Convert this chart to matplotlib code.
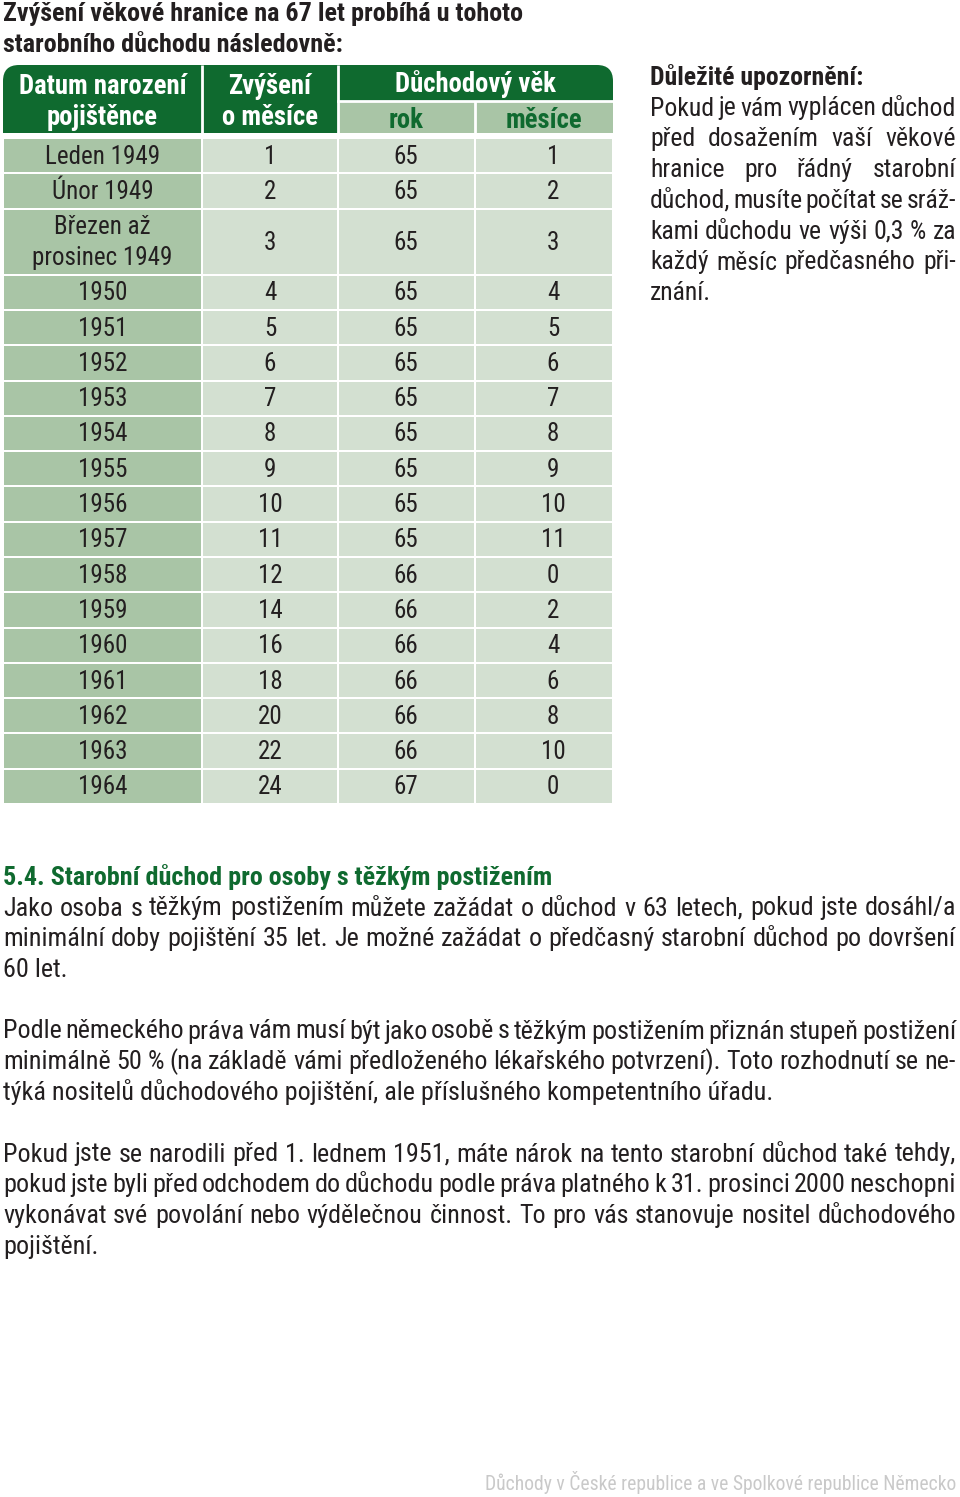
import matplotlib
matplotlib.use('Agg')
import matplotlib.pyplot as plt
from matplotlib import font_manager
from matplotlib.patches import Rectangle, FancyBboxPatch

# pick a narrow font if one is installed
names = {f.name for f in font_manager.fontManager.ttflist}
FONT = 'Roboto'
for cand in ['Liberation Sans Narrow', 'Roboto Condensed', 'Open Sans Condensed']:
    if cand in names:
        FONT = cand
        break
plt.rcParams['font.family'] = [FONT, 'DejaVu Sans']

# table data
birth = ['Leden 1949', 'Únor 1949', 'Březen až\nprosinec 1949', '1950', '1951', '1952',
         '1953', '1954', '1955', '1956', '1957', '1958', '1959', '1960', '1961',
         '1962', '1963', '1964']
increase = [1, 2, 3, 4, 5, 6, 7, 8, 9, 10, 11, 12, 14, 16, 18, 20, 22, 24]
age_year = [65, 65, 65, 65, 65, 65, 65, 65, 65, 65, 65, 66, 66, 66, 66, 66, 66, 67]
age_month = [1, 2, 3, 4, 5, 6, 7, 8, 9, 10, 11, 0, 2, 4, 6, 8, 10, 0]

title = ['Zvýšení věkové hranice na 67 let probíhá u tohoto',
         'starobního důchodu následovně:']
note_head = 'Důležité upozornění:'
note = ['Pokud je vám vyplácen důchod',
        'před dosažením vaší věkové',
        'hranice pro řádný starobní',
        'důchod, musíte počítat se sráž-',
        'kami důchodu ve výši 0,3 % za',
        'každý měsíc předčasného při-',
        'znání.']
section = '5.4. Starobní důchod pro osoby s těžkým postižením'
para1 = ['Jako osoba s těžkým postižením můžete zažádat o důchod v 63 letech, pokud jste dosáhl/a',
         'minimální doby pojištění 35 let. Je možné zažádat o předčasný starobní důchod po dovršení',
         '60 let.']
para2 = ['Podle německého práva vám musí být jako osobě s těžkým postižením přiznán stupeň postižení',
         'minimálně 50 % (na základě vámi předloženého lékařského potvrzení). Toto rozhodnutí se ne-',
         'týká nositelů důchodového pojištění, ale příslušného kompetentního úřadu.']
para3 = ['Pokud jste se narodili před 1. lednem 1951, máte nárok na tento starobní důchod také tehdy,',
         'pokud jste byli před odchodem do důchodu podle práva platného k 31. prosinci 2000 neschopni',
         'vykonávat své povolání nebo výdělečnou činnost. To pro vás stanovuje nositel důchodového',
         'pojištění.']
footer = 'Důchody v České republice a ve Spolkové republice Německo'

DARK = '#0f6a2f'
MID = '#a9c5a6'
LIGHT = '#d3e0d1'
TXT = '#231f20'

fig = plt.figure(figsize=(9.6, 14.97), dpi=100)
ax = fig.add_axes([0, 0, 1, 1])
ax.set_xlim(0, 960)
ax.set_ylim(1497, 0)
ax.axis('off')
r = fig.canvas.get_renderer()


def justify(line, x0, x1, y, size, weight='normal', color=TXT, last=False):
    if last:
        ax.text(x0, y, line, fontsize=size, fontweight=weight, color=color, va='baseline')
        return
    words = line.split(' ')
    arts = [ax.text(0, y, w, fontsize=size, fontweight=weight, color=color, va='baseline')
            for w in words]
    widths = [a.get_window_extent(renderer=r).width for a in arts]
    gap = (x1 - x0 - sum(widths)) / (len(words) - 1)
    x = x0
    for a, w in zip(arts, widths):
        a.set_x(x)
        x += w + gap


# title
for i, line in enumerate(title):
    ax.text(3, 21.5 + i * 30.5, line, fontsize=18.8, fontweight='bold', color=TXT, va='baseline')

# table header
cols = [3, 202, 338, 475, 613]
ax.add_patch(FancyBboxPatch((cols[0], 65), cols[4] - cols[0], 68,
                            boxstyle='round,pad=0,rounding_size=16', fc=DARK, ec='none'))
ax.add_patch(Rectangle((cols[0], 95), cols[2] - cols[0], 38, fc=DARK, ec='none'))
ax.add_patch(Rectangle((cols[2], 101), cols[4] - cols[2], 32, fc=MID, ec='none'))
for x in (cols[1], cols[2]):
    ax.plot([x, x], [65, 133], color='white', lw=2, solid_capstyle='butt')
ax.plot([cols[2], cols[4]], [101, 101], color='white', lw=2)
ax.plot([cols[3], cols[3]], [101, 133], color='white', lw=2, solid_capstyle='butt')

hs = 19.2
ax.text((cols[0] + cols[1]) / 2, 94, 'Datum narození', fontsize=hs, fontweight='bold', color='white', ha='center', va='baseline')
ax.text((cols[0] + cols[1]) / 2, 125, 'pojištěnce', fontsize=hs, fontweight='bold', color='white', ha='center', va='baseline')
ax.text((cols[1] + cols[2]) / 2, 94, 'Zvýšení', fontsize=hs, fontweight='bold', color='white', ha='center', va='baseline')
ax.text((cols[1] + cols[2]) / 2, 125, 'o měsíce', fontsize=hs, fontweight='bold', color='white', ha='center', va='baseline')
ax.text((cols[2] + cols[4]) / 2, 91.5, 'Důchodový věk', fontsize=hs, fontweight='bold', color='white', ha='center', va='baseline')
ax.text((cols[2] + cols[3]) / 2, 128, 'rok', fontsize=hs, fontweight='bold', color=DARK, ha='center', va='baseline')
ax.text((cols[3] + cols[4]) / 2, 128, 'měsíce', fontsize=hs, fontweight='bold', color=DARK, ha='center', va='baseline')

# table body
pitch = 35.3
top = 138
ds = 18
off = 8
for i in range(len(birth)):
    h = 66 if '\n' in birth[i] else pitch
    for j in range(4):
        ax.add_patch(Rectangle((cols[j] + 1, top + 1), cols[j + 1] - cols[j] - 2, h - 2,
                               fc=MID if j == 0 else LIGHT, ec='none'))
    yc = top + h / 2
    if '\n' in birth[i]:
        a, b = birth[i].split('\n')
        ax.text((cols[0] + cols[1]) / 2, yc - 15.5 + off, a, fontsize=ds, color=TXT, ha='center', va='baseline')
        ax.text((cols[0] + cols[1]) / 2, yc + 15.5 + off, b, fontsize=ds, color=TXT, ha='center', va='baseline')
    else:
        ax.text((cols[0] + cols[1]) / 2, yc + off, birth[i], fontsize=ds, color=TXT, ha='center', va='baseline')
    ax.text(270, yc + off, str(increase[i]), fontsize=ds, color=TXT, ha='center', va='baseline')
    ax.text(406, yc + off, str(age_year[i]), fontsize=ds, color=TXT, ha='center', va='baseline')
    ax.text(553, yc + off, str(age_month[i]), fontsize=ds, color=TXT, ha='center', va='baseline')
    top += h

# side note
ax.text(650, 84.5, note_head, fontsize=18.5, fontweight='bold', color=TXT, va='baseline')
for i, line in enumerate(note):
    justify(line, 650, 956, 115.5 + i * 30.8, 18.5, last=(i == len(note) - 1))

# section
ax.text(3, 884.5, section, fontsize=18.8, fontweight='bold', color=DARK, va='baseline')
for y0, para in ((915.5, para1), (1038.5, para2), (1161.5, para3)):
    for i, line in enumerate(para):
        justify(line, 3, 956, y0 + i * 30.8, 18.8, last=(i == len(para) - 1))

ax.text(956, 1490, footer, fontsize=14.1, color='#c9c9c9', ha='right', va='baseline')

fig.savefig('out.png', dpi=100)
